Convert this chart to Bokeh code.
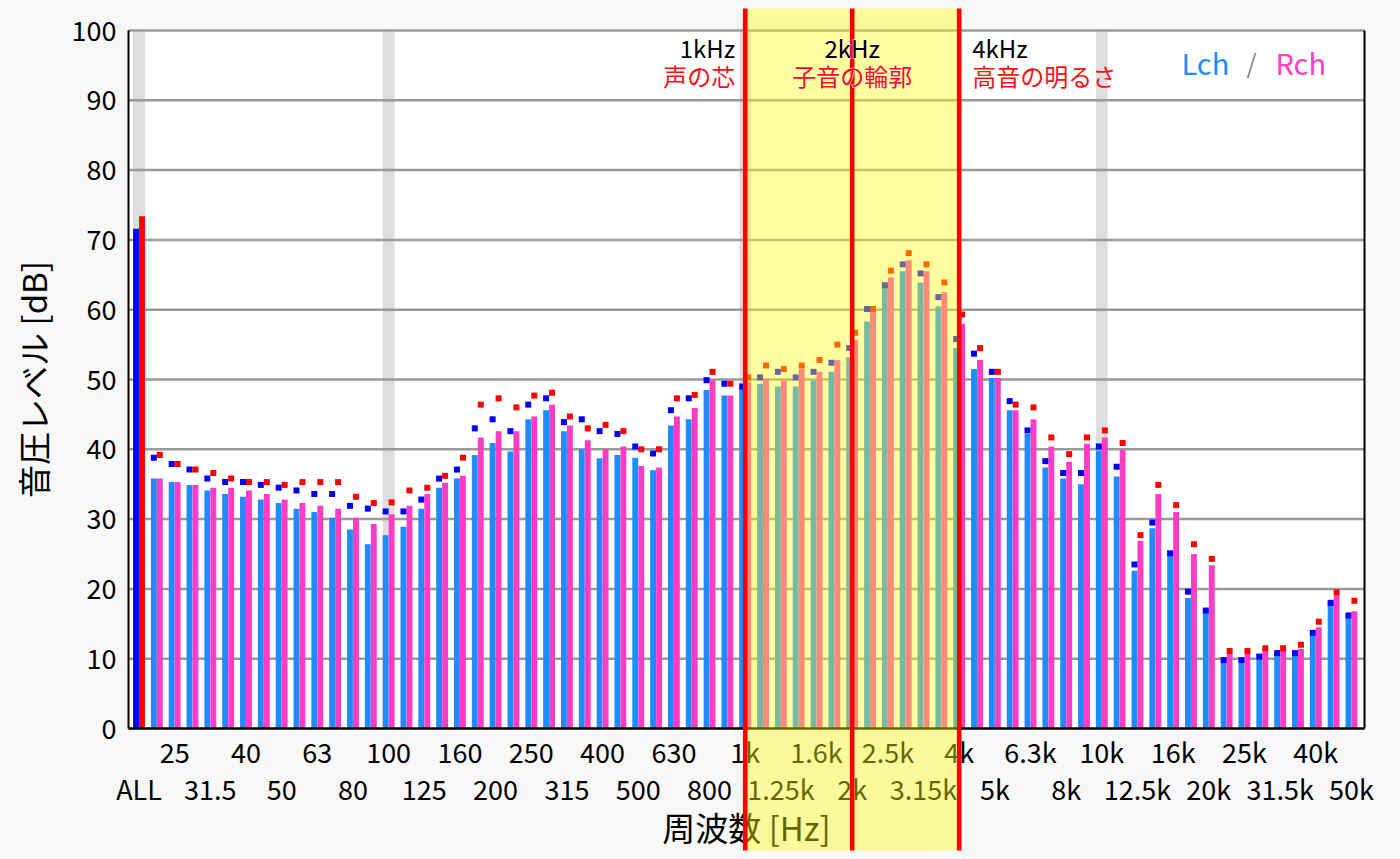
import math
from bokeh.plotting import figure
from bokeh.models import Range1d, LinearAxis, FixedTicker, BoxAnnotation, Label
from bokeh.embed import file_html
from bokeh.resources import INLINE

# ---------------- data ----------------
# 1/3-octave band labels (ALL first); bars are drawn every 1/6 octave,
# labels sit on every second bar position.
band_labels = ["ALL", "25", "31.5", "40", "50", "63", "80", "100", "125", "160", "200",
               "250", "315", "400", "500", "630", "800", "1k", "1.25k", "1.6k", "2k",
               "2.5k", "3.15k", "4k", "5k", "6.3k", "8k", "10k", "12.5k", "16k", "20k",
               "25k", "31.5k", "40k", "50k"]

all_level_L = 71.6
all_level_R = 73.4

level_L = [35.8, 35.3, 34.9, 34.1, 33.6, 33.2, 32.8, 32.3, 31.5, 31.0,
           30.2, 28.5, 26.4, 27.7, 28.9, 31.5, 34.5, 35.8, 39.2, 40.9,
           39.7, 44.3, 45.6, 42.6, 40.0, 38.7, 39.2, 38.8, 37.0, 43.4,
           44.3, 48.5, 47.7, 48.9, 49.4, 49.0, 49.0, 49.9, 51.1, 53.2,
           58.3, 63.2, 65.5, 63.9, 60.5, 54.5, 51.5, 50.2, 45.6, 42.2,
           37.4, 35.8, 35.0, 39.8, 36.1, 22.6, 28.7, 25.1, 18.7, 16.7,
           9.7, 9.7, 10.1, 10.7, 10.5, 13.3, 17.9, 15.9]
level_R = [35.8, 35.3, 34.9, 34.5, 34.5, 34.1, 33.6, 32.8, 32.3, 31.9,
           31.5, 30.2, 29.3, 30.7, 31.9, 33.6, 35.2, 36.2, 41.7, 42.6,
           42.6, 44.7, 46.4, 43.4, 41.3, 40.0, 40.4, 37.6, 37.4, 44.7,
           45.9, 49.9, 47.7, 49.6, 50.1, 49.9, 51.5, 51.1, 52.8, 55.7,
           59.8, 64.6, 67.1, 65.5, 62.5, 58.0, 52.8, 50.2, 45.6, 44.3,
           40.4, 38.2, 40.8, 41.7, 39.9, 26.9, 33.6, 31.0, 25.0, 23.4,
           10.7, 10.7, 11.1, 11.1, 11.4, 14.5, 19.1, 16.8]
peak_L = [38.8, 37.9, 37.1, 35.8, 35.3, 35.3, 34.9, 34.5, 34.1, 33.6,
          33.6, 31.9, 31.5, 31.1, 31.1, 32.8, 35.8, 37.1, 43.0, 44.3,
          42.6, 46.4, 47.3, 43.9, 44.3, 42.6, 42.2, 40.4, 39.4, 45.6,
          47.3, 49.9, 49.4, 49.0, 50.3, 51.1, 50.3, 51.1, 52.4, 54.5,
          60.1, 63.5, 66.5, 65.2, 61.8, 55.8, 53.7, 51.1, 46.9, 42.7,
          38.3, 36.6, 36.6, 40.4, 37.5, 23.5, 29.5, 25.1, 19.6, 16.9,
          9.8, 9.8, 10.3, 10.8, 10.8, 13.7, 18.0, 16.2]
peak_R = [39.2, 37.9, 37.1, 36.6, 35.8, 35.3, 35.3, 34.9, 35.3, 35.3,
          35.3, 33.2, 32.3, 32.4, 34.1, 34.5, 36.2, 38.8, 46.4, 47.3,
          46.0, 47.7, 48.1, 44.7, 43.0, 43.5, 42.6, 40.0, 40.0, 47.3,
          47.8, 51.1, 49.4, 50.3, 52.0, 51.5, 52.0, 52.8, 55.0, 56.7,
          60.1, 65.6, 68.1, 66.5, 63.9, 59.3, 54.5, 51.1, 46.4, 46.0,
          41.7, 39.3, 41.7, 42.7, 40.9, 27.7, 34.9, 32.0, 26.4, 24.3,
          11.1, 11.1, 11.5, 11.5, 12.0, 15.3, 19.5, 18.3]

y_ticks = [0, 10, 20, 30, 40, 50, 60, 70, 80, 90, 100]
gray_marks = ["ALL", "100", "1k", "10k"]
zone_edges = ["1k", "2k", "4k"]
zone_titles = ["1kHz", "2kHz", "4kHz"]
zone_notes = ["声の芯", "子音の輪郭", "高音の明るさ"]

# ---------------- layout helpers ----------------
BG = "#f7f7f7"
BLUE, PINK = "#1e8cff", "#ff3cc4"
FONT = "Noto Sans CJK JP"
SX, SY = 17.83, 6.98          # pixels per x unit / per dB


def px_x(px):
    return (px - 138.5) / SX


def px_y(py):
    return (728 - py) / SY


XL, XR = px_x(128), px_x(1364)      # plot box left / right
label_x = {lab: 2 * i for i, lab in enumerate(band_labels)}
bar_x = [i + 1 for i in range(len(level_L))]
off = 0.168
bw = 0.33

p = figure(width=1400, height=859, x_range=Range1d(px_x(0), px_x(1400)),
           y_range=Range1d(px_y(859), px_y(0)),
           output_backend="svg", toolbar_location=None,
           x_axis_location=None, y_axis_location=None,
           min_border_left=0, min_border_right=0, min_border_top=0, min_border_bottom=0,
           background_fill_color=BG, border_fill_color=BG, outline_line_color=None)
for g in p.grid:
    g.visible = False

# white plotting panel
p.quad(left=[XL], right=[XR], bottom=[y_ticks[0]], top=[y_ticks[-1]],
       fill_color="white", line_color=None)
# light gray decade stripes
p.vbar(x=[label_x[g] for g in gray_marks], top=y_ticks[-1], bottom=y_ticks[0], width=0.66,
       fill_color="#dedede", line_color=None)
# horizontal grid lines
p.segment(x0=XL, x1=XR, y0=y_ticks[1:], y1=y_ticks[1:], line_color="#9a9a9a", line_width=2.5)

# ALL bars
p.vbar(x=[label_x["ALL"] - off], top=[all_level_L], width=bw, fill_color="#0000ff", line_color=None)
p.vbar(x=[label_x["ALL"] + off], top=[all_level_R], width=bw, fill_color="#ff0000", line_color=None)

# band bars
p.vbar(x=[x - off for x in bar_x], top=level_L, width=bw, fill_color=BLUE, line_color=None)
p.vbar(x=[x + off for x in bar_x], top=level_R, width=bw, fill_color=PINK, line_color=None)

# peak markers
p.scatter(x=[x - off for x in bar_x], y=peak_L, marker="square", size=6,
          fill_color="#0000ff", line_color=None)
p.scatter(x=[x + off for x in bar_x], y=peak_R, marker="square", size=6,
          fill_color="#ff0000", line_color=None)

# y axis (left border) and right border
ya = LinearAxis(fixed_location=XL, bounds=(y_ticks[0], y_ticks[-1]), ticker=FixedTicker(ticks=y_ticks),
                axis_line_color="black", axis_line_width=2,
                major_tick_line_color=None, minor_tick_line_color=None,
                major_label_standoff=6, major_label_text_font=FONT,
                major_label_text_font_size="27px", major_label_text_color="black")
p.add_layout(ya, "left")
yr = LinearAxis(fixed_location=XR, bounds=(y_ticks[0], y_ticks[-1]), ticker=FixedTicker(ticks=[]),
                axis_line_color="black", axis_line_width=2,
                major_tick_line_color=None, minor_tick_line_color=None)
p.add_layout(yr, "right")

# x axes (two rows of labels)
top_labels = band_labels[1::2]
bot_labels = band_labels[0::2]
ax1 = LinearAxis(fixed_location=0, bounds=(XL, XR),
                 ticker=FixedTicker(ticks=[label_x[l] for l in top_labels]),
                 major_label_overrides={label_x[l]: l for l in top_labels},
                 axis_line_color="black", axis_line_width=2.5,
                 major_tick_line_color=None, minor_tick_line_color=None,
                 major_label_standoff=-3, major_label_text_font=FONT,
                 major_label_text_font_size="27px", major_label_text_color="black")
ax2 = LinearAxis(fixed_location=0, bounds=(XL, XR),
                 ticker=FixedTicker(ticks=[label_x[l] for l in bot_labels]),
                 major_label_overrides={label_x[l]: l for l in bot_labels},
                 axis_line_color=None,
                 major_tick_line_color=None, minor_tick_line_color=None,
                 major_label_standoff=34, major_label_text_font=FONT,
                 major_label_text_font_size="27px", major_label_text_color="black")
p.add_layout(ax1, "below")
p.add_layout(ax2, "below")

# axis titles
p.add_layout(Label(x=px_x(746), y=px_y(826), text="周波数 [Hz]",
                   text_align="center", text_baseline="middle", text_font=FONT,
                   text_font_size="33px", text_color="black"))
p.add_layout(Label(x=px_x(32), y=50, text="音圧レベル [dB]", angle=math.pi / 2,
                   text_align="center", text_baseline="middle", text_font=FONT,
                   text_font_size="33px", text_color="black"))

# highlighted zone and markers
ZT, ZB = px_y(8), px_y(850)
p.add_layout(BoxAnnotation(left=label_x[zone_edges[0]], right=label_x[zone_edges[-1]],
                           top=ZT, bottom=ZB,
                           fill_color="#ffff10", fill_alpha=0.4, line_color=None))
hw = 2.3 / SX
for e in zone_edges:
    p.add_layout(BoxAnnotation(left=label_x[e] - hw, right=label_x[e] + hw, top=ZT, bottom=ZB,
                               fill_color="#ff0000", fill_alpha=1.0, line_color=None))

ty, ny = px_y(47), px_y(75)
specs = [(label_x[zone_edges[0]], -10, "right"), (label_x[zone_edges[1]], 0, "center"),
         (label_x[zone_edges[2]], 13, "left")]
for (xx, xo, al), t, n in zip(specs, zone_titles, zone_notes):
    for txt, yy, col in ((t, ty, "black"), (n, ny, "#ff1010")):
        if al == "center":
            p.add_layout(Label(x=xx, y=yy, x_offset=xo, text=txt, text_align=al,
                               text_baseline="middle", text_font=FONT, text_font_size="24px",
                               text_color=col, text_outline_color="white"))
        p.add_layout(Label(x=xx, y=yy, x_offset=xo, text=txt, text_align=al,
                           text_baseline="middle", text_font=FONT, text_font_size="24px",
                           text_color=col))

# channel legend
ly = px_y(61)
p.add_layout(Label(x=px_x(1181), y=ly, text="Lch", text_align="left", text_baseline="middle",
                   text_font=FONT, text_font_size="29px", text_color=BLUE))
p.add_layout(Label(x=px_x(1251), y=ly, text="/", text_align="center", text_baseline="middle",
                   text_font=FONT, text_font_size="26px", text_color="#888888"))
p.add_layout(Label(x=px_x(1275), y=ly, text="Rch", text_align="left", text_baseline="middle",
                   text_font=FONT, text_font_size="29px", text_color=PINK))

open("out.html", "w").write(file_html(p, INLINE))
